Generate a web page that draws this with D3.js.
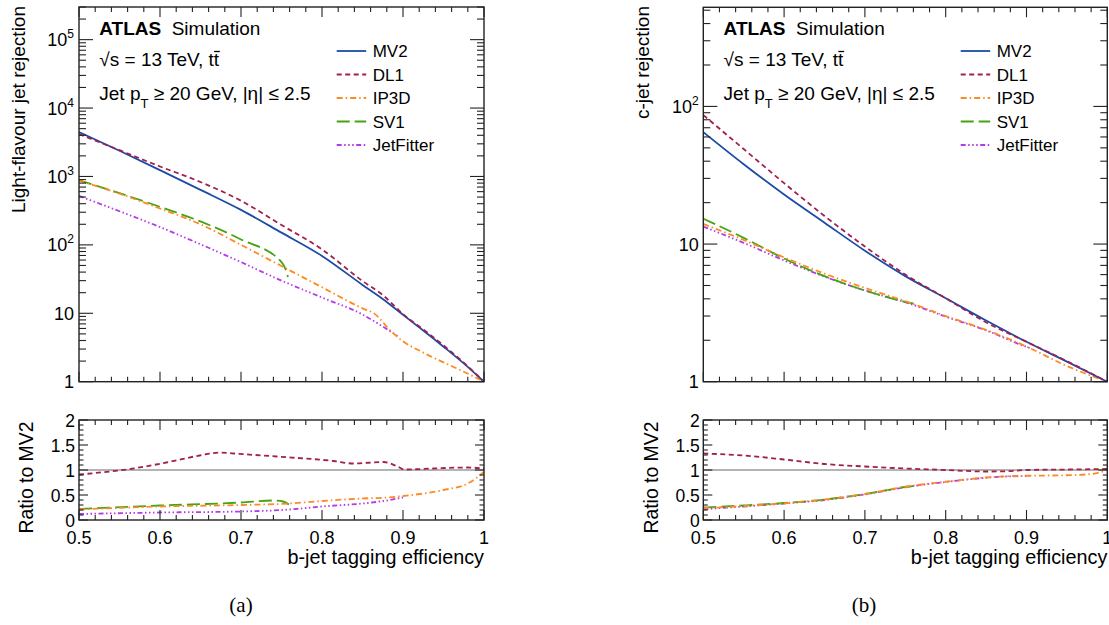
<!DOCTYPE html>
<html><head><meta charset="utf-8">
<script src="https://cdnjs.cloudflare.com/ajax/libs/d3/7.8.5/d3.min.js"></script>
<style>
html,body{margin:0;padding:0;background:#fff;}
svg{display:block;}
text{font-family:"Liberation Sans",Arial,Helvetica,sans-serif;fill:#000;}
</style></head><body>
<svg id="c" width="1109" height="625"></svg>
<script>
// ---------------- DATA ----------------
const seriesNames = ["MV2","DL1","IP3D","SV1","JetFitter"];
const seriesColors = ["#1c4ca8","#a31f4c","#ff8a22","#45a314","#b43ce8"];
const xTickLabels = ["0.5","0.6","0.7","0.8","0.9","1"];
const ratioTickLabels = ["0","0.5","1","1.5","2"];

// Panel (a): light-flavour jet rejection
const effA   = [0.50,0.55,0.60,0.65,0.70,0.75,0.80,0.85,0.875,0.90,0.925,0.95,0.975,1.00];
const mv2A   = [4450,2375,1238,638,325,151,69,26,16.2,9.5,5.6,3.25,1.85,1.0];
const dl1A   = [4160,2420,1400,830,442,195,86,29.6,18.5,9.7,5.8,3.4,1.9,1.0];
const effIp3dA = [0.50,0.55,0.60,0.65,0.70,0.75,0.80,0.85,0.865,0.885,0.90,0.925,0.95,0.975,1.00];
const ip3dA  = [870,560,340,200,100,49,24,11.8,9.8,5.5,3.9,2.66,1.92,1.40,1.0];
const effSv1A = [0.50,0.55,0.60,0.65,0.70,0.75,0.754,0.758];
const sv1A   = [880,570,360,220,120,56,47,34];
const effJfA = [0.50,0.55,0.60,0.65,0.70,0.75,0.80,0.85,0.875,0.895];
const jfA    = [520,310,182,102,56,30,17,9.6,6.4,4.5];

// Panel (a) ratio to MV2
const effRDl1A = [0.50,0.567,0.608,0.649,0.674,0.691,0.744,0.814,0.839,0.876,0.892,0.902,0.937,0.979,1.00];
const rDl1A    = [0.91,1.03,1.15,1.29,1.35,1.33,1.27,1.18,1.13,1.16,1.08,1.01,1.03,1.05,1.03];
const effRSv1A = [0.50,0.60,0.70,0.74,0.752,0.76];
const rSv1A    = [0.22,0.29,0.35,0.39,0.37,0.30];
const effRIp3dA = [0.50,0.60,0.70,0.76,0.80,0.85,0.88,0.90,0.95,0.98,1.00];
const rIp3dA    = [0.21,0.27,0.30,0.33,0.38,0.43,0.45,0.48,0.60,0.73,0.96];
const effRJfA = [0.50,0.60,0.70,0.76,0.80,0.85,0.876,0.90];
const rJfA    = [0.12,0.15,0.17,0.21,0.27,0.33,0.38,0.45];

// Panel (b): c-jet rejection
const effB   = [0.50,0.55,0.60,0.65,0.70,0.75,0.80,0.85,0.90,0.95,1.00];
const mv2B   = [65,38,22.9,14.3,8.95,5.85,4.04,2.78,1.95,1.40,1.0];
const dl1B   = [86.5,49,27.7,16,9.6,6.0,4.04,2.70,1.95,1.41,1.0];
const ip3dB  = [14.0,10.7,8.0,6.1,4.8,3.85,3.0,2.38,1.80,1.30,1.0];
const effSv1B = [0.50,0.55,0.60,0.65,0.70,0.75,0.76];
const sv1B   = [15.3,11.1,7.85,5.85,4.6,3.8,3.7];
const effJfB = [0.50,0.55,0.60,0.65,0.70,0.75,0.80,0.85,0.90,0.905];
const jfB    = [13.4,10.2,7.6,5.8,4.6,3.78,2.97,2.36,1.79,1.75];

// Panel (b) ratio to MV2
const effRB   = [0.50,0.55,0.60,0.65,0.70,0.75,0.80,0.85,0.875,0.90,0.95,1.00];
const rDl1B   = [1.33,1.29,1.21,1.12,1.07,1.03,1.0,0.97,0.975,1.0,1.01,1.02];
const effRSv1B = [0.50,0.55,0.60,0.65,0.70,0.75,0.76];
const rSv1B   = [0.25,0.29,0.34,0.41,0.52,0.66,0.68];
const effRIp3dB = [0.50,0.55,0.60,0.65,0.70,0.75,0.80,0.85,0.875,0.90,0.95,0.98,1.00];
const rIp3dB    = [0.235,0.28,0.335,0.41,0.52,0.665,0.765,0.85,0.875,0.885,0.895,0.92,1.0];
const effRJfB = [0.50,0.55,0.60,0.65,0.70,0.75,0.80,0.85,0.875,0.90,0.905];
const rJfB    = [0.215,0.27,0.33,0.40,0.51,0.655,0.76,0.845,0.87,0.88,0.883];

// ---------------- STYLE ----------------
const seriesDash = [null,"5,3.5","6,3,1.5,3","13,5","5,2.5,1.5,2.5,1.5,2.5,1.5,2.5"];
const LW = 1.8;

const svg = d3.select("#c");
svg.append("rect").attr("width",1109).attr("height",625).attr("fill","#fff");

function zipXY(xs, ys){ return xs.map((x,i)=>({x, y: ys[i]})); }

function drawPanel(cfg){
  const g = svg.append("g");
  const x = d3.scaleLinear().domain([0.5,1]).range([cfg.x0, cfg.x1]);
  const yT = d3.scaleLog().domain([1, cfg.topMax]).range([381.7, cfg.topY0]);
  const yR = d3.scaleLinear().domain([0,2]).range([520, 420]);
  const topY0 = cfg.topY0, topY1 = 381.7, rY0 = 420, rY1 = 520;
  const id = cfg.id;

  const defs = svg.append("defs");
  defs.append("clipPath").attr("id","ct"+id).append("rect")
    .attr("x",cfg.x0).attr("y",topY0).attr("width",cfg.x1-cfg.x0).attr("height",topY1-topY0);
  defs.append("clipPath").attr("id","cr"+id).append("rect")
    .attr("x",cfg.x0).attr("y",rY0).attr("width",cfg.x1-cfg.x0).attr("height",rY1-rY0);

  // --- top curves
  const lineT = d3.line().x(d=>x(d.x)).y(d=>yT(d.y)).curve(d3.curveMonotoneX);
  const gT = g.append("g").attr("clip-path","url(#ct"+id+")");
  cfg.top.forEach((s)=>{
    gT.append("path").datum(s.data).attr("d",lineT).attr("fill","none")
      .attr("stroke",seriesColors[s.k]).attr("stroke-width",LW)
      .attr("stroke-dasharray",seriesDash[s.k]);
  });

  // --- ratio curves
  const lineR = d3.line().x(d=>x(d.x)).y(d=>yR(d.y)).curve(d3.curveMonotoneX);
  const gR = g.append("g").attr("clip-path","url(#cr"+id+")");
  gR.append("line").attr("x1",x(0.5)).attr("x2",x(1)).attr("y1",yR(1)).attr("y2",yR(1))
    .attr("stroke","#b4b4b4").attr("stroke-width",2);
  cfg.ratio.forEach((s)=>{
    gR.append("path").datum(s.data).attr("d",lineR).attr("fill","none")
      .attr("stroke",seriesColors[s.k]).attr("stroke-width",LW)
      .attr("stroke-dasharray",seriesDash[s.k]);
  });

  const tk = g.append("g").attr("stroke","#222").attr("stroke-width",1.1);
  const minorX = x.ticks(25), majorX = xTickLabels.map(Number);
  function xTicks(yb, yt, lmaj, lmin){
    minorX.forEach(v=>{
      const isMaj = majorX.some(m=>Math.abs(m-v)<1e-9);
      const L = isMaj?lmaj:lmin;
      tk.append("line").attr("x1",x(v)).attr("x2",x(v)).attr("y1",yb).attr("y2",yb-L);
      tk.append("line").attr("x1",x(v)).attr("x2",x(v)).attr("y1",yt).attr("y2",yt+L);
    });
  }
  xTicks(topY1, topY0, 10, 5);
  xTicks(rY1, rY0, 10, 5);

  yT.ticks().filter(v=>v<=cfg.topMax).forEach(v=>{
    const lg = Math.log10(v);
    const isMaj = Math.abs(lg-Math.round(lg))<1e-9;
    const L = isMaj?14:7;
    tk.append("line").attr("x1",cfg.x0).attr("x2",cfg.x0+L).attr("y1",yT(v)).attr("y2",yT(v));
    tk.append("line").attr("x1",cfg.x1).attr("x2",cfg.x1-L).attr("y1",yT(v)).attr("y2",yT(v));
  });
  const majR = ratioTickLabels.map(Number);
  yR.ticks(20).forEach(v=>{
    const isMaj = majR.some(m=>Math.abs(m-v)<1e-9);
    const L = isMaj?9:4.5;
    tk.append("line").attr("x1",cfg.x0).attr("x2",cfg.x0+L).attr("y1",yR(v)).attr("y2",yR(v));
    tk.append("line").attr("x1",cfg.x1).attr("x2",cfg.x1-L).attr("y1",yR(v)).attr("y2",yR(v));
  });

  [[topY0,topY1],[rY0,rY1]].forEach(([a,b])=>{
    g.append("rect").attr("x",cfg.x0).attr("y",a).attr("width",cfg.x1-cfg.x0).attr("height",b-a)
      .attr("fill","none").attr("stroke","#222").attr("stroke-width",1.4);
  });

  yT.ticks().filter(v=>v<=cfg.topMax).forEach(v=>{
    const lg = Math.log10(v);
    if (Math.abs(lg-Math.round(lg))>1e-9) return;
    const e = Math.round(lg);
    const t = g.append("text").attr("x",cfg.x0-cfg.labOff).attr("y",yT(v)+6.5)
      .attr("text-anchor","end").attr("font-size",18);
    if (e===0) t.text("1");
    else if (e===1) t.text("10");
    else {
      t.append("tspan").text("10");
      t.append("tspan").attr("font-size",12).attr("dy",-8).text(String(e));
    }
  });
  ratioTickLabels.forEach(s=>{
    g.append("text").attr("x",cfg.x0-cfg.rLabOff).attr("y",yR(+s)+6.5)
      .attr("text-anchor","end").attr("font-size",17.5).text(s);
  });
  xTickLabels.forEach(s=>{
    g.append("text").attr("x",x(+s)).attr("y",543.5)
      .attr("text-anchor","middle").attr("font-size",18).text(s);
  });
  g.append("text").attr("x",cfg.x1).attr("y",563.5).attr("text-anchor","end")
    .attr("font-size",19.8).text("b-jet tagging efficiency");
  g.append("text").attr("transform",`translate(${cfg.yTitleX},6) rotate(-90)`)
    .attr("text-anchor","end").attr("font-size",19).text(cfg.yTitle);
  g.append("text").attr("transform",`translate(${cfg.rTitleX},421.5) rotate(-90)`)
    .attr("text-anchor","end").attr("font-size",19.4).text("Ratio to MV2");

  const lx = cfg.x0 + 20.3;
  g.append("text").attr("x",lx).attr("y",35).attr("font-size",19).attr("font-weight","bold").text("ATLAS");
  g.append("text").attr("x",cfg.x0+92.7).attr("y",35).attr("font-size",19).text("Simulation");
  const t2 = g.append("text").attr("x",lx).attr("y",66).attr("font-size",19).text("\u221As = 13 TeV, tt");
  const n2 = t2.text().length, nd = t2.node();
  const sp = nd.getStartPositionOfChar(n2-1), ep = nd.getEndPositionOfChar(n2-1);
  g.append("line").attr("x1",sp.x+0.3).attr("x2",ep.x+0.8).attr("y1",51.5).attr("y2",51.5)
    .attr("stroke","#000").attr("stroke-width",1.3);
  const t3 = g.append("text").attr("x",lx).attr("y",100).attr("font-size",19);
  t3.append("tspan").text("Jet p");
  t3.append("tspan").attr("font-size",13).attr("dy",7.5).text("T");
  t3.append("tspan").attr("dy",-7.5).text(" \u2265 20 GeV, |\u03B7| \u2264 2.5");

  const rowY = [51,74.5,98,121.5,145];
  seriesNames.forEach((nm,k)=>{
    g.append("line").attr("x1",cfg.legX).attr("x2",cfg.legX+29.5).attr("y1",rowY[k]).attr("y2",rowY[k])
      .attr("stroke",seriesColors[k]).attr("stroke-width",LW).attr("stroke-dasharray",seriesDash[k]);
    g.append("text").attr("x",cfg.legX+36).attr("y",rowY[k]+6).attr("font-size",17).text(nm);
  });

  g.append("text").attr("x",cfg.capX).attr("y",612).attr("text-anchor","middle")
    .attr("font-size",21).style("font-family",'"Liberation Serif","DejaVu Serif",serif').text(cfg.cap);
}

drawPanel({
  id:"a", x0:79, x1:484, topY0:7, topMax:3e5, labOff:5, rLabOff:4,
  yTitle:"Light-flavour jet rejection", yTitleX:25, rTitleX:33, legX:336.7, capX:241, cap:"(a)",
  top:[
    {k:4, data:zipXY(effJfA,jfA)},
    {k:3, data:zipXY(effSv1A,sv1A)},
    {k:2, data:zipXY(effIp3dA,ip3dA)},
    {k:0, data:zipXY(effA,mv2A)},
    {k:1, data:zipXY(effA,dl1A)}
  ],
  ratio:[
    {k:4, data:zipXY(effRJfA,rJfA)},
    {k:3, data:zipXY(effRSv1A,rSv1A)},
    {k:2, data:zipXY(effRIp3dA,rIp3dA)},
    {k:1, data:zipXY(effRDl1A,rDl1A)}
  ]
});
drawPanel({
  id:"b", x0:703.3, x1:1107.3, topY0:7.3, topMax:525, labOff:4.5, rLabOff:3.5,
  yTitle:"c-jet rejection", yTitleX:649, rTitleX:658, legX:960.7, capX:864, cap:"(b)",
  top:[
    {k:4, data:zipXY(effJfB,jfB)},
    {k:3, data:zipXY(effSv1B,sv1B)},
    {k:2, data:zipXY(effB,ip3dB)},
    {k:0, data:zipXY(effB,mv2B)},
    {k:1, data:zipXY(effB,dl1B)}
  ],
  ratio:[
    {k:4, data:zipXY(effRJfB,rJfB)},
    {k:3, data:zipXY(effRSv1B,rSv1B)},
    {k:2, data:zipXY(effRIp3dB,rIp3dB)},
    {k:1, data:zipXY(effRB,rDl1B)}
  ]
});
</script>
</body></html>
